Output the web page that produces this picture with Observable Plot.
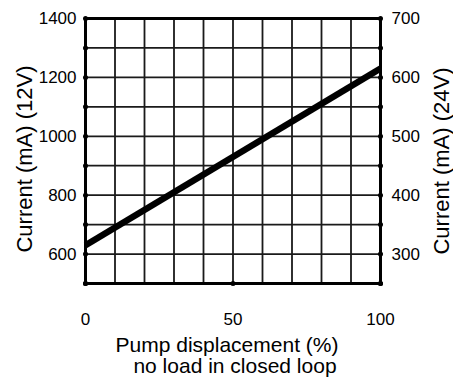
<!DOCTYPE html>
<html>
<head>
<meta charset="utf-8">
<script src="https://cdn.jsdelivr.net/npm/d3@7"></script>
<script src="https://cdn.jsdelivr.net/npm/@observablehq/plot@0.6"></script>
<style>
  html, body { margin: 0; padding: 0; background: #fff; }
  svg { display: block; }
</style>
</head>
<body>
<div id="chart"></div>
<script>
// Data
const displacement = [0, 100];
const current12V = [630, 1230];
const xTicks = [0, 50, 100];
const yTicks12V = [600, 800, 1000, 1200, 1400];
const gridX = [0, 10, 20, 30, 40, 50, 60, 70, 80, 90, 100];
const gridY = [500, 600, 700, 800, 900, 1000, 1100, 1200, 1300, 1400];
const xTitle1 = "Pump displacement (%)";
const xTitle2 = "no load in closed loop";
const yTitleLeft = "Current (mA) (12V)";
const yTitleRight = "Current (mA) (24V)";

const lineData = displacement.map((d, i) => ({x: d, y: current12V[i]}));
const font = "Liberation Sans, Arial, sans-serif";

const chart = Plot.plot({
  width: 453,
  height: 378,
  marginLeft: 85,
  marginRight: 73,
  marginTop: 18,
  marginBottom: 95,
  style: {fontFamily: font, background: "#fff", color: "#000"},
  x: {domain: [0, 100]},
  y: {domain: [500, 1400]},
  marks: [
    Plot.ruleX(gridX, {stroke: "#1a1a1a", strokeWidth: 1.8}),
    Plot.ruleY(gridY, {stroke: "#1a1a1a", strokeWidth: 1.8}),
    Plot.frame({stroke: "#000", strokeWidth: 3}),
    Plot.line(lineData, {x: "x", y: "y", stroke: "#000", strokeWidth: 6.5, strokeLinecap: "butt"}),
    Plot.dot(gridY, {x: () => 0, y: d => d, r: 2.5, fill: "#000"}),
    Plot.dot(gridY, {x: () => 100, y: d => d, r: 2.5, fill: "#000"}),
    Plot.dot(xTicks, {x: d => d, y: () => 500, r: 2.5, fill: "#000"}),
    Plot.axisY({anchor: "left", ticks: yTicks12V, tickFormat: d => String(d), tickSize: 0, tickPadding: 9, fontSize: 17, label: null}),
    Plot.axisY({anchor: "right", ticks: yTicks12V, tickFormat: d => String(d / 2), tickSize: 0, tickPadding: 11, fontSize: 17, label: null}),
    Plot.axisX({anchor: "bottom", ticks: xTicks, tickFormat: d => String(d), tickSize: 0, tickPadding: 29, fontSize: 17, label: null}),
    Plot.text([xTitle1], {text: d => d, frameAnchor: "bottom", textAnchor: "middle", lineAnchor: "middle", dx: -6, dy: 62, fontSize: 21}),
    Plot.text([xTitle2], {text: d => d, frameAnchor: "bottom", textAnchor: "middle", lineAnchor: "middle", dx: 2, dy: 83, fontSize: 21}),
    Plot.text([yTitleLeft], {text: d => d, frameAnchor: "left", textAnchor: "middle", lineAnchor: "middle", rotate: -90, dx: -61, dy: 8, fontSize: 22}),
    Plot.text([yTitleRight], {text: d => d, frameAnchor: "right", textAnchor: "middle", lineAnchor: "middle", rotate: -90, dx: 61, dy: 10, fontSize: 22})
  ]
});
document.getElementById("chart").appendChild(chart);
</script>
</body>
</html>
